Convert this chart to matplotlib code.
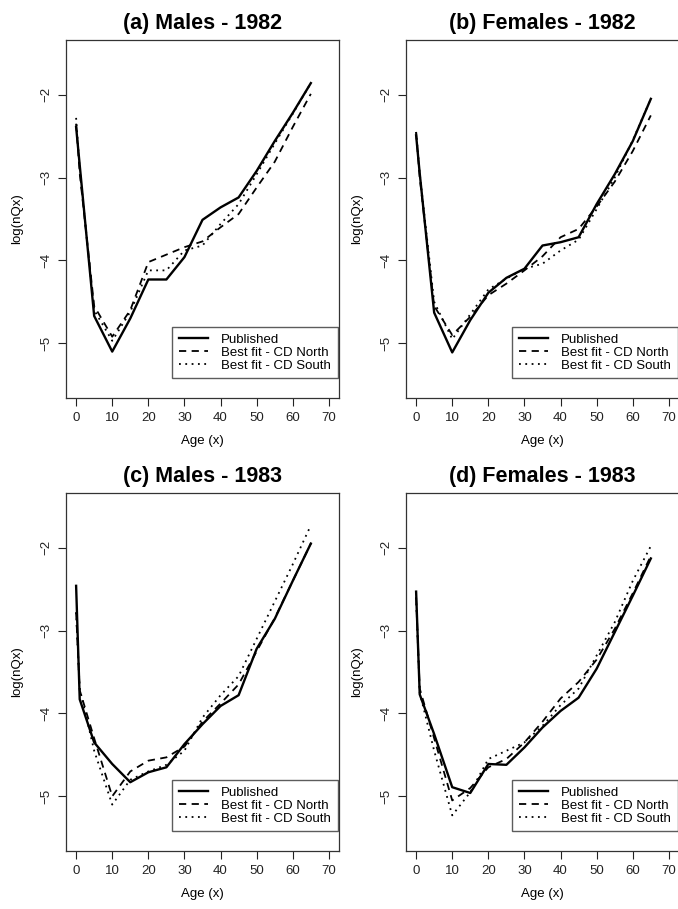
import matplotlib
matplotlib.use('Agg')
import matplotlib.pyplot as plt

plt.rcParams['font.family'] = ['Liberation Sans', 'DejaVu Sans']

ages = [0, 1, 5, 10, 15, 20, 25, 30, 35, 40, 45, 50, 55, 60, 65]

# (a) Males 1982
a_pub = [-2.39, -2.85, -4.67, -5.10, -4.70, -4.23, -4.23, -3.96, -3.51, -3.36, -3.24, -2.92, -2.56, -2.22, -1.86]
a_north = [-2.35, -2.95, -4.55, -4.92, -4.60, -4.02, -3.93, -3.84, -3.77, -3.60, -3.44, -3.12, -2.81, -2.39, -1.99]
a_south = [-2.28, -2.90, -4.60, -4.97, -4.62, -4.12, -4.12, -3.88, -3.82, -3.56, -3.32, -2.96, -2.59, -2.23, -1.86]

# (b) Females 1982
b_pub = [-2.49, -2.95, -4.63, -5.11, -4.72, -4.39, -4.21, -4.10, -3.82, -3.78, -3.72, -3.32, -2.96, -2.56, -2.05]
b_north = [-2.45, -3.00, -4.55, -4.90, -4.68, -4.42, -4.28, -4.12, -3.95, -3.72, -3.62, -3.35, -3.05, -2.68, -2.25]
b_south = [-2.45, -2.95, -4.50, -4.95, -4.65, -4.35, -4.22, -4.10, -4.04, -3.88, -3.75, -3.38, -3.00, -2.55, -2.05]

# (c) Males 1983
c_pub = [-2.46, -3.83, -4.35, -4.61, -4.83, -4.71, -4.65, -4.37, -4.13, -3.91, -3.78, -3.22, -2.86, -2.40, -1.95]
c_north = [-2.78, -3.72, -4.30, -5.00, -4.70, -4.57, -4.53, -4.40, -4.10, -3.88, -3.65, -3.25, -2.85, -2.40, -1.95]
c_south = [-2.78, -3.70, -4.45, -5.10, -4.80, -4.70, -4.62, -4.45, -4.05, -3.78, -3.55, -3.10, -2.65, -2.20, -1.73]

# (d) Females 1983
d_pub = [-2.53, -3.77, -4.25, -4.89, -4.96, -4.61, -4.62, -4.41, -4.17, -3.97, -3.81, -3.46, -3.02, -2.58, -2.13]
d_north = [-2.60, -3.70, -4.30, -5.05, -4.90, -4.65, -4.55, -4.35, -4.10, -3.82, -3.62, -3.35, -2.98, -2.55, -2.10]
d_south = [-2.60, -3.75, -4.45, -5.23, -4.95, -4.55, -4.45, -4.35, -4.15, -3.90, -3.70, -3.30, -2.90, -2.40, -1.98]

titles = ['(a) Males - 1982', '(b) Females - 1982', '(c) Males - 1983', '(d) Females - 1983']
panels = [(a_pub, a_north, a_south), (b_pub, b_north, b_south),
          (c_pub, c_north, c_south), (d_pub, d_north, d_south)]
series_names = ['Published', 'Best fit - CD North', 'Best fit - CD South']

W, H = 678, 909
fig = plt.figure(figsize=(W / 100, H / 100), dpi=100)
boxes = [(66, 40), (406, 40), (66, 493), (406, 493)]
aw, ah = 273, 358

for (x0, y0), title, (pub, north, south) in zip(boxes, titles, panels):
    ax = fig.add_axes([x0 / W, 1 - (y0 + ah) / H, aw / W, ah / H])
    ax.plot(ages, pub, color='black', lw=1.7, ls='-', label=series_names[0])
    ax.plot(ages, north, color='black', lw=1.3, ls=(0, (4, 3)), label=series_names[1])
    ax.plot(ages, south, color='black', lw=1.3, ls=(0, (1, 2.5)), label=series_names[2])
    ax.set_xlim(-2.8, 72.8)
    ax.set_ylim(-5.66, -1.34)
    ax.set_xticks(range(0, 71, 10))
    ax.set_yticks([-5, -4, -3, -2])
    ax.tick_params(direction='out', length=6, width=0.8, labelsize=9.5, colors='#222222', pad=4)
    for lbl in ax.get_yticklabels():
        lbl.set_rotation(90)
        lbl.set_va('center')
    for s in ax.spines.values():
        s.set_linewidth(0.9)
        s.set_color('#333333')
    ax.set_xlabel('Age (x)', fontsize=9.5, labelpad=8)
    ax.set_ylabel('log(nQx)', fontsize=9.5, labelpad=12)
    ax.set_title(title, fontsize=15.5, fontweight='bold', pad=8)
    leg = ax.legend(loc='lower right', bbox_to_anchor=(0.995, 0.055), fontsize=9.5,
                    frameon=True, fancybox=False, handlelength=2.2, handletextpad=1.0,
                    borderpad=0.5, labelspacing=0.05, borderaxespad=0)
    leg.get_frame().set_edgecolor('#333333')
    leg.get_frame().set_linewidth(1.0)

plt.savefig('out.png', dpi=100)
